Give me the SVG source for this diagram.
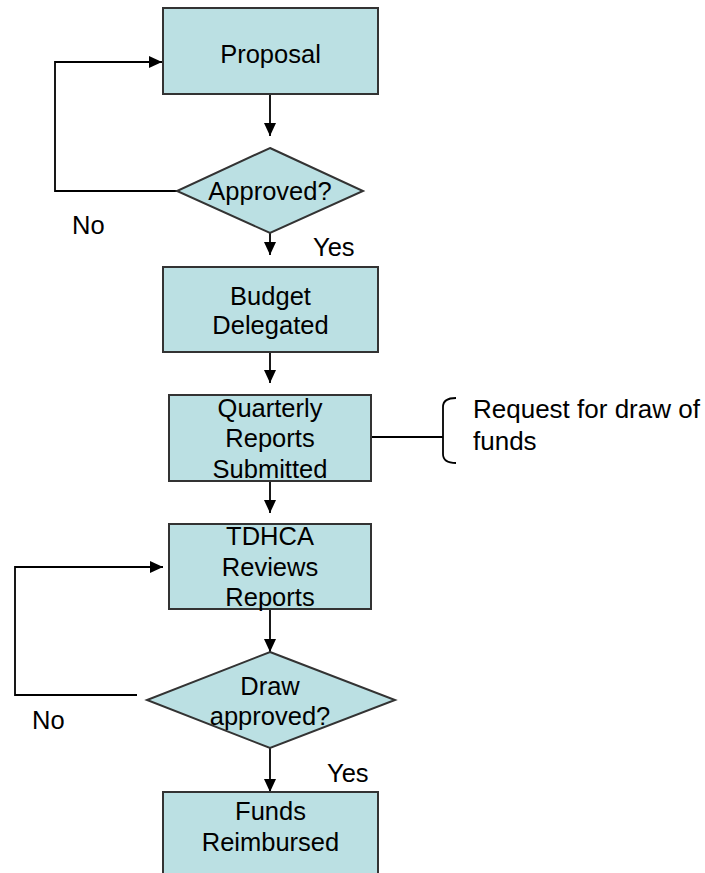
<svg xmlns="http://www.w3.org/2000/svg" width="705" height="873" viewBox="0 0 705 873">
<defs>
<style>
.box{fill:#BBE0E3;stroke:#333;stroke-width:2}
.t{font-family:"Liberation Sans",Arial,sans-serif;font-size:25.5px;fill:#000;text-anchor:middle}
.l{font-family:"Liberation Sans",Arial,sans-serif;font-size:25.5px;fill:#000}
.c{fill:none;stroke:#000;stroke-width:1.8}
</style>
<marker id="ah" markerUnits="userSpaceOnUse" markerWidth="14" markerHeight="12" refX="13" refY="6" orient="auto">
<path d="M0,0 L13,6 L0,12 z" fill="#000"/>
</marker>
</defs>
<rect width="705" height="873" fill="#fff"/>
<g id="connectors">
<path class="c" d="M270,94 L270,136" marker-end="url(#ah)"/>
<path class="c" d="M270,233 L270,255" marker-end="url(#ah)"/>
<path class="c" d="M177,191 L55,191 L55,62 L162,62" marker-end="url(#ah)"/>
<path class="c" d="M270,352 L270,383" marker-end="url(#ah)"/>
<path class="c" d="M270,481 L270,513" marker-end="url(#ah)"/>
<path class="c" d="M270,609 L270,652" marker-end="url(#ah)"/>
<path class="c" d="M137,695 L15,695 L15,567 L163,567" marker-end="url(#ah)"/>
<path class="c" d="M270,748 L270,792" marker-end="url(#ah)"/>
<path class="c" d="M365,437 L443,437"/>
<path class="c" d="M456,398 Q443,398 443,407 L443,454 Q443,463 456,463"/>
</g>
<g id="proposal">
<rect class="box" x="163" y="8" width="215" height="86"/>
<text class="t" x="270.5" y="63">Proposal</text>
</g>
<g id="approved">
<polygon class="box" points="270,148 363,191 270,233 177,191"/>
<text class="t" x="270" y="200">Approved?</text>
</g>
<g id="no1"><text class="l" x="72" y="234">No</text></g>
<g id="yes1"><text class="l" x="313" y="256">Yes</text></g>
<g id="budget">
<rect class="box" x="163" y="267" width="215" height="85"/>
<text class="t" x="270.5" y="305">Budget</text>
<text class="t" x="270.5" y="334">Delegated</text>
</g>
<g id="quarterly">
<rect class="box" x="169" y="395" width="202" height="86"/>
<text class="t" x="270" y="417">Quarterly</text>
<text class="t" x="270" y="447">Reports</text>
<text class="t" x="270" y="478">Submitted</text>
</g>
<g id="request">
<text class="l" x="473" y="418" style="font-size:26px">Request for draw of</text>
<text class="l" x="473" y="450" style="font-size:26px">funds</text>
</g>
<g id="tdhca">
<rect class="box" x="169" y="524" width="202" height="85"/>
<text class="t" x="270" y="545">TDHCA</text>
<text class="t" x="270" y="576">Reviews</text>
<text class="t" x="270" y="606">Reports</text>
</g>
<g id="draw">
<polygon class="box" points="270,652 395,700 270,748 147,700"/>
<text class="t" x="270" y="695">Draw</text>
<text class="t" x="270" y="725">approved?</text>
</g>
<g id="no2"><text class="l" x="32" y="729">No</text></g>
<g id="yes2"><text class="l" x="327" y="782">Yes</text></g>
<g id="funds">
<rect class="box" x="163" y="792" width="215" height="120"/>
<text class="t" x="270.5" y="820">Funds</text>
<text class="t" x="270.5" y="851">Reimbursed</text>
</g>
</svg>
